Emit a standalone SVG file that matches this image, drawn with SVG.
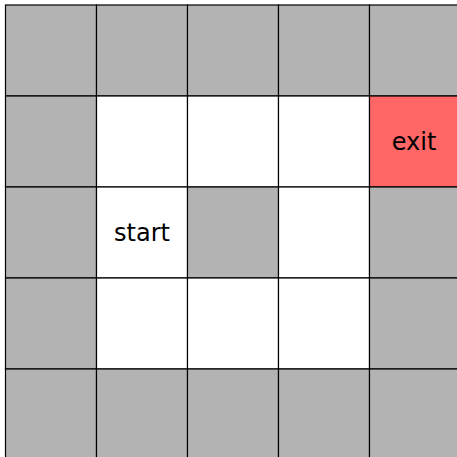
<svg xmlns="http://www.w3.org/2000/svg" width="457" height="457" viewBox="0 0 457 457">
<style>
.w{fill:#b3b3b3;stroke:#000;stroke-width:1.2}
.o{fill:#ffffff;stroke:#000;stroke-width:1.2}
.x{fill:#ff6666;stroke:#000;stroke-width:1.2}
text{font-family:"DejaVu Sans",sans-serif;font-size:24px;fill:#000;text-anchor:middle}
</style>
<rect width="457" height="457" fill="#fff"/>
<g id="r0">
<rect id="c0_0" class="w" x="5.5" y="5" width="91" height="91"/>
<rect id="c0_1" class="w" x="96.5" y="5" width="91" height="91"/>
<rect id="c0_2" class="w" x="187.5" y="5" width="91" height="91"/>
<rect id="c0_3" class="w" x="278.5" y="5" width="91" height="91"/>
<rect id="c0_4" class="w" x="369.5" y="5" width="91" height="91"/>
</g>
<g id="r1">
<rect id="c1_0" class="w" x="5.5" y="96" width="91" height="91"/>
<rect id="c1_1" class="o" x="96.5" y="96" width="91" height="91"/>
<rect id="c1_2" class="o" x="187.5" y="96" width="91" height="91"/>
<rect id="c1_3" class="o" x="278.5" y="96" width="91" height="91"/>
<g id="exit"><rect class="x" x="369.5" y="96" width="91" height="91"/><text x="414" y="150">exit</text></g>
</g>
<g id="r2">
<rect id="c2_0" class="w" x="5.5" y="187" width="91" height="91"/>
<g id="start"><rect class="o" x="96.5" y="187" width="91" height="91"/><text x="142" y="241">start</text></g>
<rect id="c2_2" class="w" x="187.5" y="187" width="91" height="91"/>
<rect id="c2_3" class="o" x="278.5" y="187" width="91" height="91"/>
<rect id="c2_4" class="w" x="369.5" y="187" width="91" height="91"/>
</g>
<g id="r3">
<rect id="c3_0" class="w" x="5.5" y="278" width="91" height="91"/>
<rect id="c3_1" class="o" x="96.5" y="278" width="91" height="91"/>
<rect id="c3_2" class="o" x="187.5" y="278" width="91" height="91"/>
<rect id="c3_3" class="o" x="278.5" y="278" width="91" height="91"/>
<rect id="c3_4" class="w" x="369.5" y="278" width="91" height="91"/>
</g>
<g id="r4">
<rect id="c4_0" class="w" x="5.5" y="369" width="91" height="91"/>
<rect id="c4_1" class="w" x="96.5" y="369" width="91" height="91"/>
<rect id="c4_2" class="w" x="187.5" y="369" width="91" height="91"/>
<rect id="c4_3" class="w" x="278.5" y="369" width="91" height="91"/>
<rect id="c4_4" class="w" x="369.5" y="369" width="91" height="91"/>
</g>
<g id="connectors"/>
</svg>
